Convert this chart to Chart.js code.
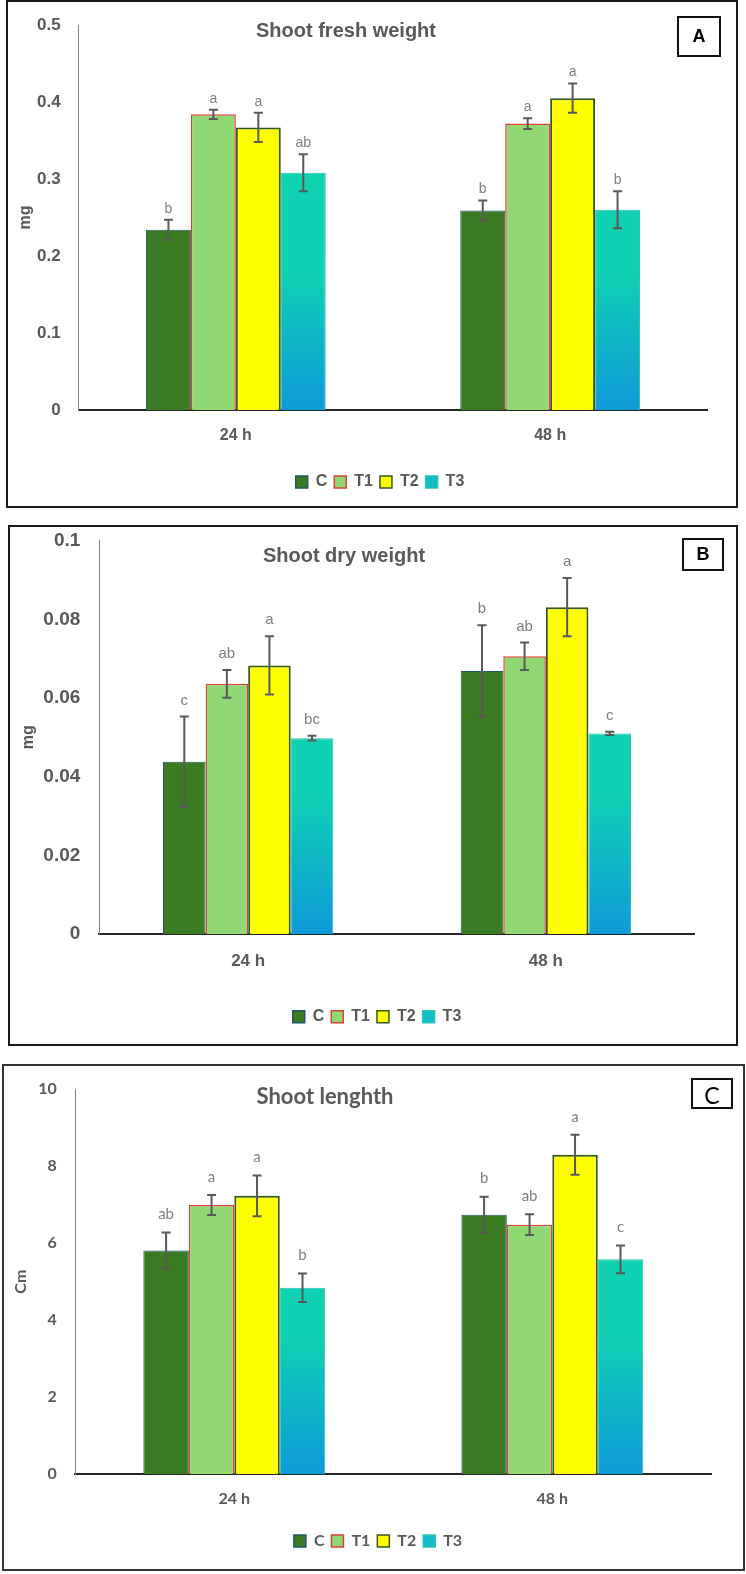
<!DOCTYPE html>
<html>
<head>
<meta charset="utf-8">
<script src="https://cdn.jsdelivr.net/npm/chart.js@4.4.1/dist/chart.umd.min.js"></script>
<style>
  html, body { margin: 0; padding: 0; background: #ffffff; }
  body { width: 746px; height: 1574px; position: relative; overflow: hidden; }
  .panel { position: absolute; box-sizing: border-box; border: 2px solid #1a1a1a; background: #fff; }
  .panel canvas { position: absolute; left: 0; top: 0; }
  .title { position: absolute; transform: translate(-50%, -50%); white-space: nowrap; color: #595959; font-weight: bold; font-size: 20px; }
  .tag { position: absolute; box-sizing: border-box; border: 2px solid #111; display: flex; align-items: center; justify-content: center; color: #000; }
</style>
</head>
<body>
<div class="panel" id="pA" style="left:6px;top:0px;width:732px;height:508px;">
  <canvas id="cA" width="728" height="504"></canvas>
  <div class="title" style="left:338px;top:28px;font-family:'Liberation Sans',Arial,sans-serif;">Shoot fresh weight</div>
  <div class="tag" style="left:669px;top:14px;width:44px;height:41px;font:bold 18px 'Liberation Sans',Arial,sans-serif;">A</div>
</div>
<div class="panel" id="pB" style="left:8px;top:525px;width:730px;height:521px;">
  <canvas id="cB" width="726" height="517"></canvas>
  <div class="title" style="left:334px;top:28px;font-family:'Liberation Sans',Arial,sans-serif;">Shoot dry weight</div>
  <div class="tag" style="left:672px;top:11px;width:42px;height:33px;font:bold 18px 'Liberation Sans',Arial,sans-serif;">B</div>
</div>
<div class="panel" id="pC" style="left:2px;top:1064px;width:743px;height:507px;border-color:#333;">
  <canvas id="cC" width="739" height="503"></canvas>
  <div class="title" style="left:321px;top:29px;font-family:Lato,'Open Sans',sans-serif;font-size:22px;">Shoot lenghth</div>
  <div class="tag" style="left:687px;top:12px;width:42px;height:31px;font:23px Lato,'Open Sans',sans-serif;align-items:flex-end;line-height:24px;">C</div>
</div>
<script>
// ---------- DATA ----------
const categories = ['24 h', '48 h'];
const seriesNames = ['C', 'T1', 'T2', 'T3'];

// Panel A: Shoot fresh weight (mg)
const freshC  = [0.234, 0.259];
const freshT1 = [0.384, 0.372];
const freshT2 = [0.367, 0.405];
const freshT3 = [0.308, 0.260];
const freshErrC  = [0.013, 0.013];
const freshErrT1 = [0.006, 0.007];
const freshErrT2 = [0.019, 0.019];
const freshErrT3 = [0.024, 0.024];
const freshLetC  = ['b', 'b'];
const freshLetT1 = ['a', 'a'];
const freshLetT2 = ['a', 'a'];
const freshLetT3 = ['ab', 'b'];
const freshTicks = [0, 0.1, 0.2, 0.3, 0.4, 0.5];

// Panel B: Shoot dry weight (mg)
const dryC  = [0.0438, 0.0669];
const dryT1 = [0.0636, 0.0706];
const dryT2 = [0.0683, 0.0831];
const dryT3 = [0.0498, 0.0510];
const dryErrC  = [0.0115, 0.0116];
const dryErrT1 = [0.0035, 0.0035];
const dryErrT2 = [0.0074, 0.0074];
const dryErrT3 = [0.0006, 0.0004];
const dryLetC  = ['c', 'b'];
const dryLetT1 = ['ab', 'ab'];
const dryLetT2 = ['a', 'a'];
const dryLetT3 = ['bc', 'c'];
const dryTicks = [0, 0.02, 0.04, 0.06, 0.08, 0.1];

// Panel C: Shoot length (Cm)
const lenC  = [5.81, 6.74];
const lenT1 = [6.99, 6.48];
const lenT2 = [7.23, 8.30];
const lenT3 = [4.84, 5.58];
const lenErrC  = [0.47, 0.47];
const lenErrT1 = [0.26, 0.27];
const lenErrT2 = [0.53, 0.52];
const lenErrT3 = [0.37, 0.36];
const lenLetC  = ['ab', 'b'];
const lenLetT1 = ['a', 'ab'];
const lenLetT2 = ['a', 'a'];
const lenLetT3 = ['b', 'c'];
const lenTicks = [0, 2, 4, 6, 8, 10];

// ---------- STYLE ----------
const fills   = ['#3B7B24', '#8FD873', '#FFFF00', null];
const borders = ['#1F5A66', '#E0403A', '#35571C', '#2CC2B0'];
const bWidths = [1, 1.5, 2, 1];

function t3Gradient(ctx) {
  const chart = ctx.chart;
  const a = chart.chartArea;
  if (!a) return '#10D4B0';
  const g = chart.ctx.createLinearGradient(0, a.bottom, 0, a.top);
  g.addColorStop(0, '#0E9AD8');
  g.addColorStop(0.36, '#10D1B3');
  g.addColorStop(1, '#10D5B0');
  return g;
}

const errLetters = {
  id: 'errLetters',
  afterDatasetsDraw(chart, args, o) {
    const ctx = chart.ctx, y = chart.scales.y;
    chart.data.datasets.forEach((ds, i) => {
      const meta = chart.getDatasetMeta(i);
      meta.data.forEach((bar, j) => {
        const v = ds.data[j], e = ds.errors[j];
        const yt = y.getPixelForValue(v + e), yb = y.getPixelForValue(v - e);
        const x = bar.x, cap = 4.5;
        ctx.save();
        ctx.strokeStyle = '#595959';
        ctx.lineWidth = 2;
        ctx.beginPath();
        ctx.moveTo(x, yt); ctx.lineTo(x, yb);
        ctx.moveTo(x - cap, yt); ctx.lineTo(x + cap, yt);
        ctx.moveTo(x - cap, yb); ctx.lineTo(x + cap, yb);
        ctx.stroke();
        ctx.fillStyle = '#7F7F7F';
        ctx.font = o.letterFont;
        ctx.textAlign = 'center';
        ctx.textBaseline = 'middle';
        ctx.fillText(ds.letters[j], x, yt - o.gap);
        ctx.restore();
      });
    });
  }
};

// re-centres the legend row horizontally (canvas x) after layout
const legendCenter = {
  id: 'legendCenter',
  afterLayout(chart, args, o) {
    const lg = chart.legend;
    if (!lg || o.center == null) return;
    const w = lg.right - lg.left;
    lg.left = o.center - w / 2;
    lg.right = lg.left + w;
  }
};

function makeChart(id, values, errs, lets, ticks, yTitle, L) {
  const datasets = seriesNames.map((n, i) => ({
    label: n,
    data: values[i],
    errors: errs[i],
    letters: lets[i],
    backgroundColor: i === 3 ? t3Gradient : fills[i],
    borderColor: borders[i],
    borderWidth: bWidths[i],
    borderSkipped: 'bottom',
    categoryPercentage: 0.572,
    barPercentage: 1.0
  }));
  const font = (size, weight) => ({ family: L.family, size: size, weight: weight });
  return new Chart(document.getElementById(id), {
    type: 'bar',
    data: { labels: categories, datasets: datasets },
    options: {
      responsive: false,
      animation: false,
      devicePixelRatio: 1,
      layout: { padding: { left: 0, top: L.padTop, right: L.padRight, bottom: L.padBottom } },
      plugins: {
        tooltip: { enabled: false },
        title: { display: false },
        legend: {
          position: 'bottom',
          labels: {
            boxWidth: 12, boxHeight: 12, padding: 7,
            color: '#595959', font: font(16, 'bold'),
            generateLabels(chart) {
              return chart.data.datasets.map((ds, i) => ({
                text: ds.label,
                fillStyle: i === 3 ? '#10BFC6' : ds.backgroundColor,
                strokeStyle: ds.borderColor,
                lineWidth: 1.5,
                fontColor: '#595959',
                hidden: false,
                datasetIndex: i
              }));
            }
          }
        },
        legendCenter: { center: L.legendX },
        errLetters: { letterFont: L.letterFont, gap: L.gap }
      },
      scales: {
        x: {
          z: 1,
          grid: { display: false, drawTicks: false },
          border: { display: true, color: '#262626', width: 2 },
          ticks: { color: '#595959', font: font(L.xFont, 'bold'), padding: L.xPad },
          afterFit(s) { s.height = L.xHeight; s.paddingLeft = 0; s.paddingRight = 0; }
        },
        y: {
          min: ticks[0],
          max: ticks[ticks.length - 1],
          grid: { display: false, drawTicks: false },
          border: { display: true, color: '#7F7F7F', width: 1 },
          ticks: {
            color: '#595959', font: font(L.yFont, 'bold'), padding: L.yPad,
            callback: (v) => String(v)
          },
          afterBuildTicks(s) { s.ticks = ticks.map(v => ({ value: v })); },
          title: {
            display: true, text: yTitle, color: '#595959',
            font: font(16, 'bold'), padding: { top: L.titlePad, bottom: 0 }
          },
          afterFit(s) { s.width = L.yWidth; s.paddingTop = 0; s.paddingBottom = 0; }
        }
      }
    },
    plugins: [errLetters, legendCenter]
  });
}

makeChart('cA',
  [freshC, freshT1, freshT2, freshT3],
  [freshErrC, freshErrT1, freshErrT2, freshErrT3],
  [freshLetC, freshLetT1, freshLetT2, freshLetT3],
  freshTicks, 'mg',
  { family: "'Liberation Sans', Arial, sans-serif", yWidth: 70.7, padTop: 23, padRight: 28.7, padBottom: 6,
    xHeight: 57, xPad: 16, xFont: 16, yFont: 17, yPad: 18, titlePad: 8, legendX: 372,
    letterFont: "14px 'Liberation Sans', Arial, sans-serif", gap: 11 });

makeChart('cB',
  [dryC, dryT1, dryT2, dryT3],
  [dryErrC, dryErrT1, dryErrT2, dryErrT3],
  [dryLetC, dryLetT1, dryLetT2, dryLetT3],
  dryTicks, 'mg',
  { family: "'Liberation Sans', Arial, sans-serif", yWidth: 89.3, padTop: 13.7, padRight: 41.3, padBottom: 9.3,
    xHeight: 67.7, xPad: 17, xFont: 17, yFont: 19, yPad: 19, titlePad: 9.4, legendX: 367,
    letterFont: "15px 'Liberation Sans', Arial, sans-serif", gap: 16 });

makeChart('cC',
  [lenC, lenT1, lenT2, lenT3],
  [lenErrC, lenErrT1, lenErrT2, lenErrT3],
  [lenLetC, lenLetT1, lenLetT2, lenLetT3],
  lenTicks, 'Cm',
  { family: "Lato, 'Open Sans', sans-serif", yWidth: 71.3, padTop: 23.3, padRight: 31.7, padBottom: 10,
    xHeight: 52, xPad: 15.4, xFont: 16, yFont: 16, yPad: 18.6, titlePad: 7.4, legendX: 374,
    letterFont: "15px Lato, 'Open Sans', sans-serif", gap: 18 });
</script>
</body>
</html>
